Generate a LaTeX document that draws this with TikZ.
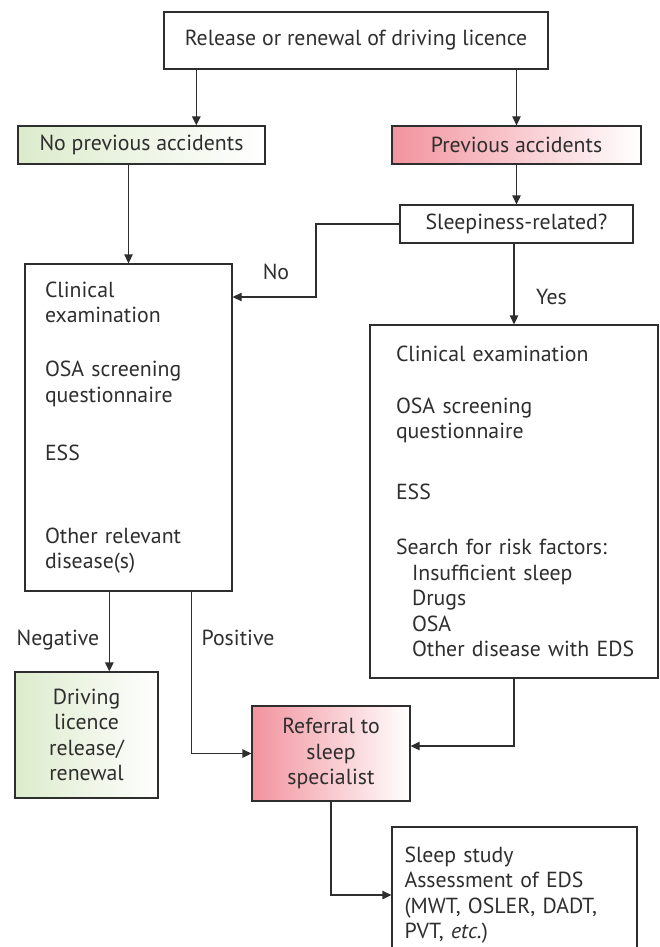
\documentclass[tikz,border=0pt]{standalone}
\usepackage{fontspec}
\setmainfont{PT Sans}
\usetikzlibrary{arrows.meta}

\definecolor{ink}{HTML}{2E2E2E}
\definecolor{leafgreen}{HTML}{DCEBCC}
\definecolor{alertred}{HTML}{F2939E}

\tikzset{
    box/.style={draw=ink, line width=1.3pt, text=ink, inner sep=0pt, align=center},
    listbox/.style={box, align=left},
    greenbox/.style={box, left color=leafgreen, right color=white},
    redbox/.style={box, left color=alertred, right color=white},
    flow/.style={draw=ink, line width=1.3pt, -{Triangle[length=9pt,width=8.5pt]}},
    tag/.style={text=ink, inner sep=0pt}
}

\begin{document}
\begin{tikzpicture}[x=1pt, y=-1pt, font=\fontsize{21.8}{25.5}\selectfont]

    \path[use as bounding box, clip] (0,0) rectangle (660,947);

    % -- top: request and accident history --
    \node[box, minimum width=384, minimum height=57] (request) at (356,40.5)
        {Release or renewal of driving licence};
    \node[greenbox, minimum width=247, minimum height=38] (noacc) at (141.5,145)
        {No previous accidents};
    \node[redbox, minimum width=249, minimum height=38] (acc) at (516.5,145)
        {Previous accidents};
    \node[box, minimum width=233, minimum height=38] (sleepy) at (516.5,224)
        {Sleepiness-related?};

    % -- left column: screening without accidents --
    \node[listbox, text width=167, minimum width=207, minimum height=327] (screen) at (128.5,427.5)
        {Clinical\\ examination\\[28.5pt] OSA screening\\ questionnaire\\[32.5pt] ESS\\[57.5pt]
         Other relevant\\ disease(s)};
    \node[greenbox, minimum width=143, minimum height=126] (licence) at (86.5,735)
        {Driving\\ licence\\ release/\\ renewal};

    % -- right column: screening after accidents --
    \node[listbox, text width=236, minimum width=288, minimum height=353] (search) at (514,501.5)
        {Clinical examination\\[26.5pt] OSA screening\\ questionnaire\\[35.5pt] ESS\\[29.5pt]
         Search for risk factors:\\
         \hspace*{16pt}Insufficient sleep\\
         \hspace*{16pt}Drugs\\
         \hspace*{16pt}OSA\\
         \hspace*{16pt}\mbox{Other disease with EDS}};

    % -- bottom: referral and sleep study --
    \node[redbox, minimum width=158, minimum height=95] (referral) at (331,753.5)
        {Referral to\\ sleep\\ specialist};
    \node[listbox, text width=220, minimum width=245, minimum height=136] (study) at (514.5,895)
        {Sleep study\\ Assessment of EDS\\ (MWT, OSLER, DADT,\\ PVT, \textit{etc.})};

    % connectors
    \draw[flow] ([xshift=33pt]request.south west) -- ([xshift=33pt]request.south west |- noacc.north);
    \draw[flow] (request.south -| acc) -- (acc.north);
    \draw[flow] (acc.south) -- (sleepy.north);
    \draw[flow] (noacc.south -| screen) -- (screen.north);

    \coordinate (nobend) at (316,297);
    \draw[flow] (sleepy.west) -| (nobend) -- (nobend -| screen.east);
    \node[tag] (no) at (276,272) {No};

    \draw[flow] (sleepy.south -| search) -- (search.north);
    \node[tag] (yes) at (551.5,297) {Yes};

    \draw[flow] ([xshift=85pt]screen.south west) -- ([xshift=85pt]screen.south west |- licence.north);
    \node[tag, anchor=base] (neg) at (58,645) {Negative};
    \draw[flow] ([xshift=167pt]screen.south west) |- (referral.west);
    \node[tag, anchor=base] (pos) at (238,645) {Positive};

    \draw[flow] (search.south) |- ([yshift=7.5pt]referral.east);
    \draw[flow] (referral.south) |- (study.west);

\end{tikzpicture}
\end{document}
